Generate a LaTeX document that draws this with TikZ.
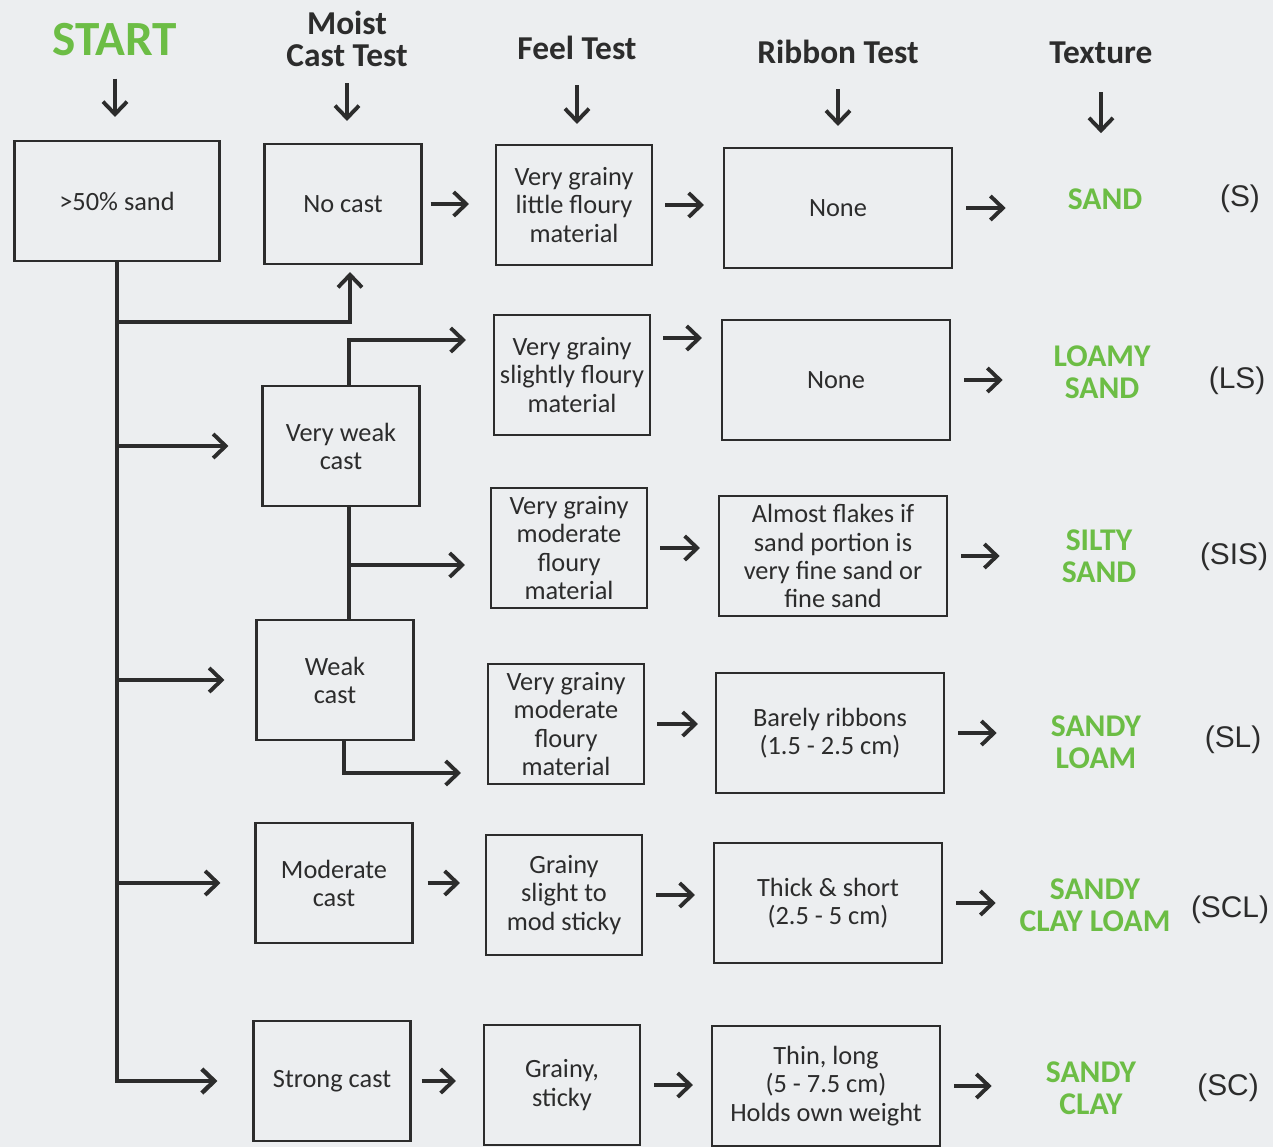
\documentclass[tikz,border=0pt]{standalone}
\usepackage{fontspec}
\setmainfont{Carlito}
\newfontfamily\abbrfont{Liberation Sans}
\usetikzlibrary{arrows.meta}
\definecolor{paper}{HTML}{ECEEF0}
\definecolor{ink}{HTML}{2C2C2C}
\definecolor{soilgreen}{HTML}{6CBD45}

\begin{document}
\begin{tikzpicture}[
      x=0.02cm, y=-0.02cm,
      box/.style={rectangle, draw=ink, line width=1.2pt, fill=paper, align=center,
                  text=ink, minimum height=2.4cm, inner sep=2pt,
                  font=\fontsize{15}{16}\selectfont},
      cast/.style={box, minimum width=3.14cm},
      feel/.style={box, minimum width=3.12cm},
      ribbon/.style={box, minimum width=4.56cm},
      hdr/.style={align=center, text=ink, inner sep=0pt,
                  font=\fontsize{19}{18.5}\selectfont\bfseries},
      tex/.style={align=center, text=soilgreen, inner sep=0pt, minimum width=3.4cm,
                  font=\fontsize{18}{18}\selectfont\bfseries},
      abbr/.style={text=ink, font=\abbrfont\fontsize{17}{17}\selectfont},
      arr/.style={-{Straight Barb[length=2.5mm,width=4.8mm]}, line width=2.2pt, draw=ink},
      trunk/.style={line width=2.5pt, draw=ink}
    ]
    \fill[paper] (0,0) rectangle (1273,1147);
    \useasboundingbox (0,0) rectangle (1273,1147);

    % Column headers
    \node[hdr, text=soilgreen, font=\fontsize{28}{28}\selectfont\bfseries] (start) at (115,40) {START};
    \node[hdr] (hmoist) at (347,39) {Moist\\Cast Test};
    \node[hdr] (hfeel) at (577,48) {Feel Test};
    \node[hdr] (hrib) at (838,52) {Ribbon Test};
    \node[hdr] (htex) at (1101,53) {Texture};

    % Start box
    \node[box, minimum width=4.1cm] (sand) at (117,201) {>50\% sand};

    % Moist cast test
    \node[cast] (nocast) at (343,204) {No cast};
    \node[cast] (vweak) at (341,446) {Very weak\\cast};
    \node[cast] (weak) at (335,680) {Weak\\cast};
    \node[cast] (modcast) at (334,883) {Moderate\\cast};
    \node[cast] (strong) at (332,1081) {Strong cast};

    % Feel test
    \node[feel] (f1) at (574,205) {Very grainy\\little floury\\material};
    \node[feel] (f2) at (572,375) {Very grainy\\slightly floury\\material};
    \node[feel] (f3) at (569,548) {Very grainy\\moderate\\floury\\material};
    \node[feel] (f4) at (566,724) {Very grainy\\moderate\\floury\\material};
    \node[feel] (f5) at (564,895) {Grainy\\slight to\\mod sticky};
    \node[feel] (f6) at (562,1085) {Grainy,\\sticky};

    % Ribbon test
    \node[ribbon] (r1) at (838,208) {None};
    \node[ribbon] (r2) at (836,380) {None};
    \node[ribbon] (r3) at (833,556) {Almost flakes if\\sand portion is\\very fine sand or\\fine sand};
    \node[ribbon] (r4) at (830,733) {Barely ribbons\\(1.5 - 2.5 cm)};
    \node[ribbon] (r5) at (828,903) {Thick \& short\\(2.5 - 5 cm)};
    \node[ribbon] (r6) at (826,1086) {Thin, long\\(5 - 7.5 cm)\\Holds own weight};

    % Texture
    \node[tex] (t1) at (1105,199) {SAND};
    \node[tex] (t2) at (1102,372) {LOAMY\\SAND};
    \node[tex] (t3) at (1099,556) {SILTY\\SAND};
    \node[tex] (t4) at (1096,742) {SANDY\\LOAM};
    \node[tex] (t5) at (1095,905) {SANDY\\CLAY LOAM};
    \node[tex] (t6) at (1091,1088) {SANDY\\CLAY};
    \node[abbr] (a1) at (1240,199) {(S)};
    \node[abbr] (a2) at (1237,381) {(LS)};
    \node[abbr] (a3) at (1234,557) {(SIS)};
    \node[abbr] (a4) at (1233,740) {(SL)};
    \node[abbr] (a5) at (1230,910) {(SCL)};
    \node[abbr] (a6) at (1228,1088) {(SC)};

    % Header arrows
    \draw[arr, shorten <=4.4mm, shorten >=4.6mm] (start) -- (start |- sand.north);
    \draw[arr, shorten <=3.2mm, shorten >=4.4mm] (hmoist) -- (hmoist |- nocast.north);
    \draw[arr, shorten <=5mm, shorten >=4mm] (hfeel) -- (hfeel |- f1.north);
    \draw[arr, shorten <=5mm, shorten >=4.2mm] (hrib) -- (hrib |- r1.north);
    \draw[arr, shorten <=5.6mm, shorten >=11mm] (htex) -- (htex |- t1.north);

    % Branches from the start box
    \draw[arr, line width=2.5pt, shorten >=7mm] (sand.south) |- (strong.west);
    \draw[arr, shorten >=1.4mm] (sand.south) ++(0,60) -| ([xshift=0.14cm]nocast.south);
    \draw[arr, shorten >=6.6mm] (sand.south |- vweak.west) -- (vweak.west);
    \draw[arr, shorten >=6.2mm] (sand.south |- weak.west) -- (weak.west);
    \draw[arr, shorten >=6.8mm] (sand.south |- modcast.west) -- (modcast.west);

    % Very weak and weak cast splits
    \coordinate (vws) at ([xshift=0.16cm]vweak.south);
    \draw[arr, shorten >=5.4mm] ([xshift=0.16cm]vweak.north) |- ([yshift=0.7cm]f2.west);
    \draw[trunk] (vws) -- (vws |- weak.north);
    \draw[arr, shorten >=5mm] (vws |- 0,565) -- ([yshift=-0.34cm]f3.west);
    \draw[arr, shorten >=5.2mm] ([xshift=0.18cm]weak.south) |- ([yshift=-0.98cm]f4.west);

    % Cast to feel
    \draw[arr, shorten <=1.6mm, shorten >=5.2mm] (nocast.east) -- (nocast.east -| f1.west);
    \draw[arr, shorten <=2.8mm, shorten >=5mm] (modcast.east) -- (modcast.east -| f5.west);
    \draw[arr, shorten <=2mm, shorten >=5.4mm] (strong.east) -- (strong.east -| f6.west);

    % Feel to ribbon
    \draw[arr, shorten <=2.4mm, shorten >=3.8mm] (f1.east) -- (f1.east -| r1.west);
    \draw[arr, shorten <=2.4mm, shorten >=3.8mm] ([yshift=0.74cm]f2.east) -- ([yshift=0.74cm]f2.east -| r2.west);
    \draw[arr, shorten <=2.4mm, shorten >=3.6mm] (f3.east) -- (f3.east -| r3.west);
    \draw[arr, shorten <=2.4mm, shorten >=3.4mm] (f4.east) -- (f4.east -| r4.west);
    \draw[arr, shorten <=2.6mm, shorten >=3.6mm] (f5.east) -- (f5.east -| r5.west);
    \draw[arr, shorten <=2.6mm, shorten >=3.6mm] (f6.east) -- (f6.east -| r6.west);

    % Ribbon to texture
    \foreach \i in {1,...,6}
      \draw[arr, shorten <=2.6mm, shorten >=2.8mm] (r\i.east) -- (r\i.east -| t\i.west);
  \end{tikzpicture}
\end{document}
